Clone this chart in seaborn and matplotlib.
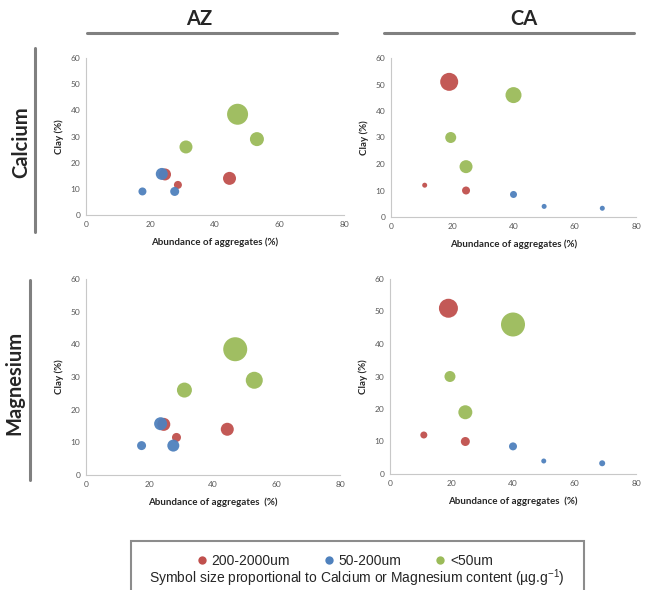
import matplotlib
matplotlib.use("Agg")
import matplotlib.pyplot as plt
import seaborn as sns
import pandas as pd
from matplotlib.lines import Line2D
from matplotlib.patches import Rectangle

# ---------------- data ----------------
fractions = ["200-2000um", "50-200um", "<50um"]
colors = ["#C0504D", "#4F81BD", "#9BBB59"]

az_fraction = ["200-2000um"] * 3 + ["50-200um"] * 3 + ["<50um"] * 3
az_abundance = [24.5, 28.5, 44.5, 17.5, 23.5, 27.5, 31.0, 47.0, 53.0]
az_clay = [15.5, 11.5, 14.0, 9.0, 15.7, 9.0, 26.0, 38.5, 29.0]
az_calcium = [144, 64, 169, 64, 144, 81, 169, 441, 196]
az_magnesium = [169, 81, 169, 81, 169, 144, 225, 576, 289]

ca_fraction = ["200-2000um"] * 3 + ["50-200um"] * 3 + ["<50um"] * 3
ca_abundance = [19.0, 11.0, 24.5, 40.0, 50.0, 69.0, 40.0, 19.5, 24.5]
ca_clay = [51.0, 12.0, 10.0, 8.5, 4.0, 3.3, 46.0, 30.0, 19.0]
ca_calcium = [324, 25, 64, 49, 25, 25, 256, 121, 169]
ca_magnesium = [361, 49, 81, 64, 25, 36, 576, 121, 196]

x_ticks = [0, 20, 40, 60, 80]
y_ticks = [0, 10, 20, 30, 40, 50, 60]

# ---------------- figure ----------------
W, H = 648, 590
fig = plt.figure(figsize=(W / 100, H / 100), dpi=100)
sns.set_style("white")
plt.rcParams["font.family"] = ["Lato", "DejaVu Sans"]
plt.rcParams["mathtext.default"] = "regular"

def fx(px):
    return px / W

def fy(py):
    return 1 - py / H

def make_ax(l, r, t, b):
    return fig.add_axes([fx(l), fy(b), fx(r) - fx(l), fy(t) - fy(b)])

panels = [
    (make_ax(86, 344, 58, 215), az_abundance, az_clay, az_calcium, az_fraction, "Abundance of aggregates (%)"),
    (make_ax(391, 636, 58, 217), ca_abundance, ca_clay, ca_calcium, ca_fraction, "Abundance of aggregates (%)"),
    (make_ax(86, 340, 279, 475), az_abundance, az_clay, az_magnesium, az_fraction, "Abundance of aggregates  (%)"),
    (make_ax(390, 636, 279, 474), ca_abundance, ca_clay, ca_magnesium, ca_fraction, "Abundance of aggregates  (%)"),
]

px2pt2 = 0.72 ** 2
max_content = 600

for ax, xs, ys, cs, fr, xlab in panels:
    df = pd.DataFrame({"abundance": xs, "clay": ys, "content": cs, "fraction": fr})
    sns.scatterplot(data=df, x="abundance", y="clay", hue="fraction", hue_order=fractions,
                    palette=colors, size="content", sizes=(0, max_content * px2pt2),
                    size_norm=(0, max_content), linewidth=0, alpha=0.95, legend=False, ax=ax)
    ax.set_xlim(0, 80)
    ax.set_ylim(0, 60)
    ax.set_xticks(x_ticks)
    ax.set_yticks(y_ticks)
    ax.tick_params(length=0, labelsize=6, colors="#595959", pad=4)
    for s in ["top", "right"]:
        ax.spines[s].set_visible(False)
    for s in ["left", "bottom"]:
        ax.spines[s].set_color("#C8C8C8")
        ax.spines[s].set_linewidth(0.8)
    ax.set_xlabel(xlab, fontsize=7, fontweight="bold", labelpad=7)
    ax.set_ylabel("Clay (%)", fontsize=7, fontweight="bold", labelpad=5)
    ax.grid(False)

# column / row headers
fig.text(fx(199), fy(19), "AZ", fontsize=14.5, fontweight="bold", ha="center", va="center")
fig.text(fx(524), fy(19), "CA", fontsize=14.5, fontweight="bold", ha="center", va="center")
fig.add_artist(Line2D([fx(87), fx(337)], [fy(33), fy(33)], color="#808080", lw=2.2))
fig.add_artist(Line2D([fx(384), fx(634)], [fy(33), fy(33)], color="#808080", lw=2.2))
fig.text(fx(21), fy(142), "Calcium", fontsize=14.5, fontweight="bold", ha="center", va="center", rotation=90)
fig.text(fx(14), fy(383), "Magnesium", fontsize=14.5, fontweight="bold", ha="center", va="center", rotation=90)
fig.add_artist(Line2D([fx(35), fx(35)], [fy(48), fy(232)], color="#808080", lw=2.2))
fig.add_artist(Line2D([fx(30), fx(30)], [fy(280), fy(480)], color="#808080", lw=2.2))

# legend box
fig.add_artist(Rectangle((fx(131), fy(600)), fx(584) - fx(131), fy(541) - fy(600),
                         transform=fig.transFigure, fill=False, edgecolor="#8C8C8C", lw=1.5))
handles = [Line2D([0], [0], marker="o", linestyle="", markersize=6, markerfacecolor=c,
                  markeredgewidth=0) for c in colors]
fig.legend(handles, fractions, loc="center", bbox_to_anchor=(fx(343), fy(561)), ncol=3,
           frameon=False, prop={"family": "Liberation Sans", "size": 10},
           handletextpad=0.1, columnspacing=2.2, handlelength=1.2)
fig.text(fx(357), fy(589), "Symbol size proportional to Calcium or Magnesium content (µg.g$^{-1}$)",
         fontsize=10, family="Liberation Sans", ha="center", va="bottom")

fig.savefig("out.png", dpi=100)
